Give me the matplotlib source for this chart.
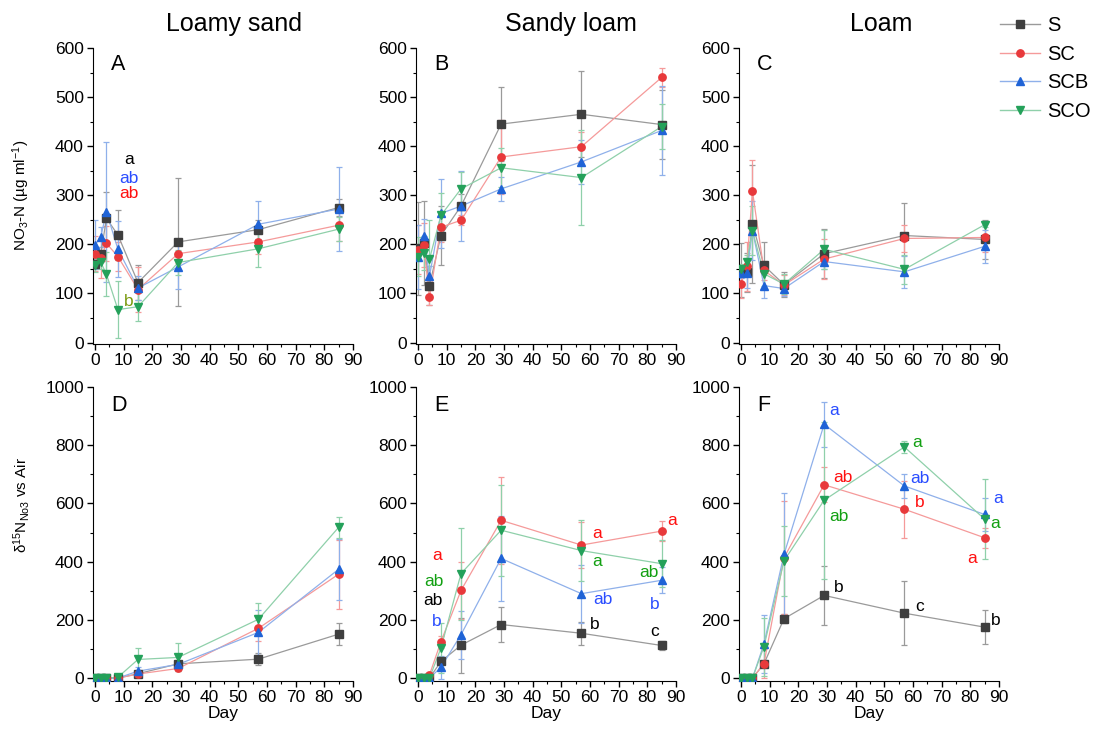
import numpy as np
import matplotlib
matplotlib.use('Agg')
import matplotlib.pyplot as plt
from matplotlib.ticker import MultipleLocator
from matplotlib.lines import Line2D

plt.rcParams['font.family'] = ['Liberation Sans', 'DejaVu Sans']
plt.rcParams['mathtext.default'] = 'regular'

days = [0, 2, 4, 8, 15, 29, 57, 85]
treatments = ['S', 'SC', 'SCB', 'SCO']
soils = ['Loamy sand', 'Sandy loam', 'Loam']

# NO3-N concentration, rows: S, SC, SCB, SCO
no3_a = [[160, 180, 253, 219, 122, 205, 230, 275],
         [181, 172, 202, 175, 108, 181, 205, 239],
         [199, 215, 266, 190, 111, 154, 241, 272],
         [158, 164, 139, 67, 73, 163, 191, 231]]
no3_a_err = [[10, 15, 53, 50, 35, 130, 20, 18],
             [35, 40, 35, 30, 45, 20, 25, 32],
             [50, 20, 143, 57, 25, 45, 47, 85],
             [15, 15, 45, 58, 30, 25, 38, 25]]

no3_b = [[192, 203, 116, 218, 278, 445, 465, 444],
         [189, 199, 92, 235, 249, 378, 399, 540],
         [174, 217, 135, 263, 278, 313, 368, 432],
         [175, 182, 170, 259, 313, 356, 336, 440]]
no3_b_err = [[95, 85, 40, 60, 25, 75, 88, 70],
             [50, 45, 15, 30, 10, 75, 30, 20],
             [65, 35, 20, 70, 72, 25, 45, 90],
             [40, 35, 80, 45, 35, 40, 97, 45]]

no3_c = [[147, 143, 242, 157, 118, 181, 218, 210],
         [120, 155, 308, 147, 117, 170, 212, 214],
         [141, 142, 228, 116, 110, 165, 144, 196],
         [150, 164, 228, 140, 119, 190, 149, 240]]
no3_c_err = [[55, 40, 120, 47, 25, 50, 66, 40],
             [30, 50, 64, 20, 20, 40, 28, 30],
             [10, 30, 60, 25, 15, 15, 32, 33],
             [10, 15, 50, 25, 20, 40, 30, 5]]

# delta 15N of nitrate
d15n_d = [[0, 0, 0, 0, 15, 49, 65, 151],
          [0, 0, 0, 0, 14, 33, 171, 357],
          [0, 0, 0, 0, 24, 47, 157, 374],
          [0, 0, 0, 3, 64, 71, 202, 518]]
d15n_d_err = [[2, 2, 2, 2, 10, 10, 20, 37],
              [2, 2, 2, 2, 10, 10, 45, 118],
              [2, 2, 2, 2, 15, 10, 78, 105],
              [2, 2, 2, 2, 38, 48, 55, 37]]

d15n_e = [[0, 0, 0, 57, 113, 184, 154, 112],
          [0, 0, 11, 125, 301, 542, 457, 505],
          [0, 0, 0, 37, 149, 411, 290, 336],
          [0, 0, 0, 103, 359, 508, 438, 393]]
d15n_e_err = [[3, 3, 3, 10, 95, 60, 40, 17],
              [3, 3, 5, 20, 97, 150, 80, 33],
              [3, 3, 3, 40, 82, 145, 100, 45],
              [3, 3, 3, 85, 158, 157, 105, 80]]

d15n_f = [[0, 0, 0, 49, 204, 284, 223, 175],
          [0, 0, 0, 49, 414, 664, 580, 482],
          [0, 0, 0, 117, 425, 872, 660, 562],
          [0, 0, 0, 108, 403, 611, 794, 546]]
d15n_f_err = [[3, 3, 3, 10, 15, 100, 110, 58],
              [3, 3, 3, 50, 195, 60, 98, 35],
              [3, 3, 3, 100, 210, 77, 40, 55],
              [3, 3, 3, 100, 120, 270, 20, 138]]

# significance letters: (day, value, text, colour)
letters_a = [(11.8, 373, 'a', 'k'), (11.8, 334, 'ab', '#2a4dff'),
             (11.8, 304, 'ab', '#ff1010'), (11.8, 83, 'b', '#7a9a10')]
letters_e = [(6.6, 422, 'a', '#ff1010'), (5.5, 333, 'ab', '#12a012'),
             (5.3, 265, 'ab', 'k'), (6.6, 194, 'b', '#2a4dff'),
             (62.6, 497, 'a', '#ff1010'), (62.6, 402, 'a', '#12a012'),
             (64.5, 269, 'ab', '#2a4dff'), (61.5, 184, 'b', 'k'),
             (88.8, 541, 'a', '#ff1010'), (80.5, 364, 'ab', '#12a012'),
             (82.5, 252, 'b', '#2a4dff'), (82.7, 160, 'c', 'k')]
letters_f = [(32.5, 919, 'a', '#2a4dff'), (61.3, 810, 'a', '#12a012'),
             (35.7, 688, 'ab', '#ff1010'), (62.3, 684, 'ab', '#2a4dff'),
             (62.3, 603, 'b', '#ff1010'), (34.2, 555, 'ab', '#12a012'),
             (89.8, 616, 'a', '#2a4dff'), (88.5, 531, 'a', '#12a012'),
             (80.5, 412, 'a', '#ff1010'), (34.2, 310, 'b', 'k'),
             (62.3, 245, 'c', 'k'), (88.8, 197, 'b', 'k')]

markers = ['s', 'o', '^', 'v']
mcolors = ['#3f3f3f', '#e8393b', '#1f63d6', '#24a15a']
lcolors = ['#9a9a9a', '#f59a9a', '#8fb0ea', '#8fd0aa']

fig = plt.figure(figsize=(11.02, 7.33), dpi=100)

lefts = [93 / 1102, 416 / 1102, 739 / 1102]
w = 260 / 1102
top_row = (389 / 733, 296 / 733)
bot_row = (52 / 733, 294 / 733)

panels = [(no3_a, no3_a_err, 'A', letters_a), (no3_b, no3_b_err, 'B', []),
          (no3_c, no3_c_err, 'C', []), (d15n_d, d15n_d_err, 'D', []),
          (d15n_e, d15n_e_err, 'E', letters_e), (d15n_f, d15n_f_err, 'F', letters_f)]

for i, (vals, errs, tag, letters) in enumerate(panels):
    row = top_row if i < 3 else bot_row
    ax = fig.add_axes([lefts[i % 3], row[0], w, row[1]])
    for k in range(4):
        ax.errorbar(days, vals[k], yerr=errs[k], color=lcolors[k], lw=0.9,
                    elinewidth=0.9, capsize=2.5, capthick=0.9, zorder=2)
        ax.plot(days, vals[k], linestyle='none', marker=markers[k], ms=5.3,
                color=mcolors[k], mec=mcolors[k], zorder=3)
    for x, y, s, c in letters:
        ax.text(x, y, s, color=c, fontsize=12.5, ha='center', va='center')
    ax.text(0.07, 0.925 if i < 3 else 0.92, tag, transform=ax.transAxes,
            fontsize=15.5, va='baseline', ha='left')

    ax.set_xlim(-0.7, 90)
    ax.xaxis.set_major_locator(MultipleLocator(10))
    ax.xaxis.set_minor_locator(MultipleLocator(5))
    if i < 3:
        ax.set_ylim(-3, 600)
        ax.yaxis.set_major_locator(MultipleLocator(100))
        ax.yaxis.set_minor_locator(MultipleLocator(50))
    else:
        ax.set_ylim(-10, 1000)
        ax.yaxis.set_major_locator(MultipleLocator(200))
        ax.yaxis.set_minor_locator(MultipleLocator(100))
        ax.set_xlabel('Day', fontsize=12.5, labelpad=1)
    for side in ['top', 'right']:
        ax.spines[side].set_visible(False)
    ax.tick_params(which='major', direction='out', length=4.5, width=1,
                   labelsize=12.5, pad=2)
    ax.tick_params(which='minor', direction='out', length=2.5, width=0.8)

    if i == 0:
        ax.set_ylabel('NO$_3$-N (µg ml$^{-1}$)', fontsize=11)
        ax.yaxis.set_label_coords(-0.235, 0.503)
    if i == 3:
        ax.set_ylabel('δ$^{15}$N$_{No3}$ vs Air', fontsize=11)
        ax.yaxis.set_label_coords(-0.235, 0.6)

fig.text(234 / 1102, 1 - 24 / 733, soils[0], fontsize=18, ha='center', va='center')
fig.text(571 / 1102, 1 - 24 / 733, soils[1], fontsize=18, ha='center', va='center')
fig.text(881 / 1102, 1 - 24 / 733, soils[2], fontsize=18, ha='center', va='center')

handles = [Line2D([], [], color=lcolors[k], lw=1, marker=markers[k], ms=5.3,
                  mfc=mcolors[k], mec=mcolors[k]) for k in range(4)]
fig.legend(handles, treatments, loc='upper left',
           bbox_to_anchor=(996 / 1102, 1 - 12 / 733), frameon=False,
           fontsize=14.5, handlelength=2.0, labelspacing=0.48,
           handletextpad=0.35, borderaxespad=0, borderpad=0.2)

fig.savefig('out.png', dpi=100)
